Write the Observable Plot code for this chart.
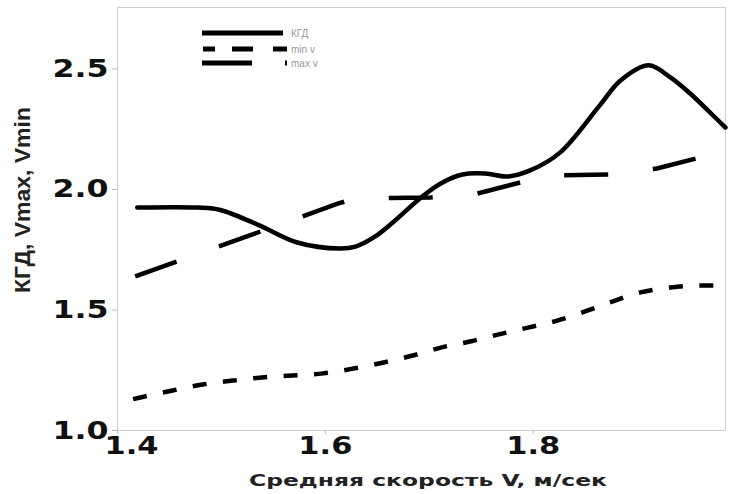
<!DOCTYPE html>
<html><head><meta charset="utf-8">
<script src="https://cdn.jsdelivr.net/npm/d3@7"></script>
<script src="https://cdn.jsdelivr.net/npm/@observablehq/plot@0.6"></script>
<style>body{margin:0;background:#fff;} #chart{width:729px;height:494px;}</style>
</head><body><div id="chart"></div>
<script>
// ---- data ----
const seriesNames = ["КГД", "min v", "max v"];
const kgdV = [1.419, 1.477, 1.499, 1.537, 1.573, 1.614, 1.629, 1.648, 1.667, 1.691, 1.711, 1.732, 1.754, 1.775, 1.797, 1.826, 1.864, 1.884, 1.911, 1.932, 1.951, 1.970, 1.985];
const kgdY = [1.925, 1.925, 1.915, 1.85, 1.78, 1.755, 1.763, 1.805, 1.871, 1.963, 2.025, 2.062, 2.066, 2.054, 2.079, 2.154, 2.349, 2.452, 2.515, 2.465, 2.398, 2.32, 2.257];
const minV = [1.415, 1.422, 1.453, 1.482, 1.511, 1.539, 1.568, 1.598, 1.627, 1.656, 1.684, 1.711, 1.739, 1.766, 1.795, 1.823, 1.85, 1.876, 1.903, 1.932, 1.961, 1.985];
const minY = [1.13, 1.137, 1.166, 1.191, 1.207, 1.22, 1.228, 1.237, 1.257, 1.282, 1.311, 1.344, 1.369, 1.398, 1.427, 1.456, 1.494, 1.535, 1.573, 1.593, 1.602, 1.602];
const maxV = [1.417, 1.6125, 1.629, 1.701, 1.746, 1.7875, 1.8115, 1.875, 1.919, 1.961, 1.985];
const maxY = [1.639, 1.942, 1.963, 1.967, 1.983, 2.029, 2.058, 2.062, 2.087, 2.133, 2.158];
const xTicks = [1.4, 1.6, 1.8];
const yTicks = [1.0, 1.5, 2.0, 2.5];
const xTitle = "Средняя скорость V, м/сек";
const yTitle = "КГД, Vmax, Vmin";

const toRows = (vs, ys) => vs.map((v, i) => ({v, y: ys[i]}));
const kgdRows = toRows(kgdV, kgdY);
const minRows = toRows(minV, minY);
const maxRows = toRows(maxV, maxY);

const plot = Plot.plot({
  width: 729, height: 494,
  marginLeft: 117, marginRight: 4, marginTop: 7, marginBottom: 64,
  x: {domain: [1.4, 1.985]},
  y: {domain: [1, 2.755]},
  style: {fontFamily: "DejaVu Sans", background: "#fff", color: "#111"},
  marks: [
    Plot.frame({stroke: "#cfcfcf"}),
    Plot.axisY({ticks: yTicks, tickFormat: d => d.toFixed(1), tickSize: 5, tickPadding: 4,
      fontSize: 25, fontWeight: "bold", stroke: "#bbb", fill: "#111", label: null}),
    Plot.axisX({ticks: xTicks, tickFormat: d => d.toFixed(1), tickSize: 4, tickPadding: 2,
      fontSize: 25, fontWeight: "bold", stroke: "#bbb", fill: "#111", label: null}),
    Plot.line(maxRows, {x: "v", y: "y", curve: "linear", stroke: "#000", strokeWidth: 4.5,
      strokeDasharray: "44,45", strokeLinecap: "butt"}),
    Plot.line(minRows, {x: "v", y: "y", curve: "monotone-x", stroke: "#000", strokeWidth: 4.5,
      strokeDasharray: "14,16.5", strokeLinecap: "butt"}),
    Plot.line(kgdRows, {x: "v", y: "y", curve: "catmull-rom", stroke: "#000", strokeWidth: 4.5})
  ]
});
document.getElementById("chart").appendChild(plot);

const svg = d3.select(plot);
svg.selectAll('g[aria-label="y-axis tick label"] text').attr("textLength", 56).attr("lengthAdjust", "spacingAndGlyphs");
svg.selectAll('g[aria-label="x-axis tick label"] text').attr("textLength", 54).attr("lengthAdjust", "spacingAndGlyphs")
  .filter((d, i) => i === 0).attr("dx", 14);

// axis titles
svg.append("text")
  .attr("transform", "translate(22,200) rotate(-90)")
  .attr("text-anchor", "middle").attr("dominant-baseline", "central")
  .attr("font-family", "Liberation Sans").attr("font-weight", "bold").attr("font-size", 22)
  .attr("fill", "#222").attr("textLength", 186).attr("lengthAdjust", "spacingAndGlyphs")
  .text(yTitle);
svg.append("text")
  .attr("x", 428).attr("y", 486).attr("text-anchor", "middle")
  .attr("font-family", "DejaVu Sans").attr("font-weight", "bold").attr("font-size", 15.5)
  .attr("fill", "#222").attr("textLength", 358).attr("lengthAdjust", "spacingAndGlyphs")
  .text(xTitle);

// legend
const legend = svg.append("g");
const legDash = [null, "12,17,21,20,14,20", "50,33,2,100"];
const legX = [[202, 283], [203, 287], [202, 287]];
const legY = [33, 49, 63];
seriesNames.forEach((name, i) => {
  legend.append("path")
    .attr("d", `M${legX[i][0]},${legY[i]}H${legX[i][1]}`)
    .attr("stroke", "#000").attr("stroke-width", 5)
    .attr("stroke-dasharray", legDash[i]);
  legend.append("text")
    .attr("x", 291).attr("y", legY[i]).attr("dominant-baseline", "central")
    .attr("text-anchor", "start")
    .attr("font-family", "Liberation Sans").attr("font-size", 10).attr("fill", "#999")
    .text(name);
});
</script>
</body></html>
